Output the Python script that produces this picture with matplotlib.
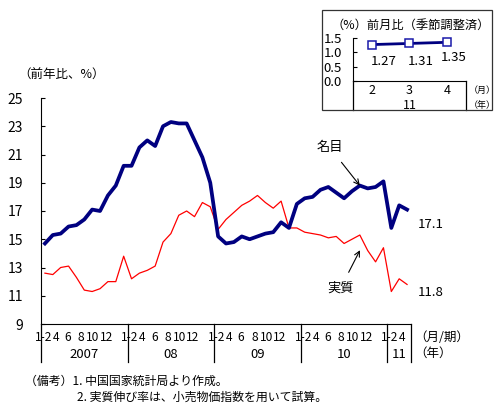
import matplotlib
matplotlib.use('Agg')
import matplotlib.pyplot as plt
from matplotlib.patches import Rectangle
import matplotlib.transforms as mtransforms
import numpy as np

plt.rcParams['font.family'] = ['Noto Sans CJK JP', 'DejaVu Sans']

# --- data ---------------------------------------------------------------
years = ['2007', '08', '09', '10', '11']
slots_per_year = [11, 11, 11, 11, 3]          # 1-2 combined, then 3..12
month_labels = ['1-2', '4', '6', '8', '10', '12']

# nominal retail sales growth (y/y, %)
nominal = [14.7, 15.3, 15.4, 15.9, 16.0, 16.4, 17.1, 17.0, 18.1, 18.8, 20.2,
           20.2, 21.5, 22.0, 21.6, 23.0, 23.3, 23.2, 23.2, 22.0, 20.8, 19.0,
           15.2, 14.7, 14.8, 15.2, 15.0, 15.2, 15.4, 15.5, 16.2, 15.8, 17.5,
           17.9, 18.0, 18.5, 18.7, 18.3, 17.9, 18.4, 18.8, 18.6, 18.7, 19.1,
           15.8, 17.4, 17.1]

# real growth (deflated by retail price index)
real = [12.6, 12.5, 13.0, 13.1, 12.3, 11.4, 11.3, 11.5, 12.0, 12.0, 13.8,
        12.2, 12.6, 12.8, 13.1, 14.8, 15.4, 16.7, 17.0, 16.6, 17.6, 17.3,
        15.7, 16.4, 16.9, 17.4, 17.7, 18.1, 17.6, 17.2, 17.7, 15.8, 15.8,
        15.5, 15.4, 15.3, 15.1, 15.2, 14.7, 15.0, 15.3, 14.2, 13.4, 14.4,
        11.3, 12.2, 11.8]

# inset: month-on-month, seasonally adjusted
mom_months = ['2', '3', '4']
mom_year = '11'
mom_values = [1.27, 1.31, 1.35]

# --- layout -------------------------------------------------------------
W, H = 502, 416
NAVY = '#000080'
RED = '#ff0000'

fig = plt.figure(figsize=(W / 100, H / 100), dpi=100)

ax = fig.add_axes([41 / W, (H - 324) / H, 370 / W, 226 / H])
x = np.arange(len(nominal))
ax.plot(x, real, color=RED, lw=0.9, zorder=2)
ax.plot(x, nominal, color=NAVY, lw=2.7, solid_joinstyle='round', zorder=3)

ax.set_xlim(-0.5, len(x) - 0.5)
ax.set_ylim(9, 25)
ax.set_yticks(range(9, 26, 2))
ax.tick_params(axis='y', direction='in', length=3, labelsize=10, pad=13)
ax.set_xticks([])
for s in ['top', 'right']:
    ax.spines[s].set_visible(False)

# month / year labels and year dividers below the axis
trans = mtransforms.blended_transform_factory(ax.transData, ax.transAxes)
label_off = [0.3, 1.9, 3.4, 5.1, 6.6, 8.3]   # position inside a year, in slots
edge = -0.5
ax.plot([edge, edge], [0, -0.17], color='black', lw=0.9, transform=trans, clip_on=False)
for yr, n in zip(years, slots_per_year):
    labs = month_labels if n == 11 else month_labels[:2]
    for lab, off in zip(labs, label_off):
        ax.text(edge + off, -0.058, lab, transform=trans, ha='center', va='center', fontsize=8.6)
    ax.text(edge + n / 2, -0.135, yr, transform=trans, ha='center', va='center', fontsize=9.5)
    edge += n
    ax.plot([edge, edge], [0, -0.17], color='black', lw=0.9, transform=trans, clip_on=False)

ax.text(len(x) - 0.1, -0.058, '（月/期）', transform=trans, ha='left', va='center', fontsize=9)
ax.text(len(x) - 0.1, -0.13, '（年）', transform=trans, ha='left', va='center', fontsize=9)

fig.text(62 / W, 1 - 75 / H, '（前年比、%）', ha='center', va='center', fontsize=9)

# series annotations
i_nom = 40
ax.annotate('名目', xy=(i_nom, nominal[i_nom]), xytext=(-30, 38), textcoords='offset pixels',
            ha='center', va='center', fontsize=9.5,
            arrowprops=dict(arrowstyle='->', lw=0.8, color='black', shrinkA=5, shrinkB=0))
ax.annotate('実質', xy=(40.5, (real[40] + real[41]) / 2), xytext=(-23, -45), textcoords='offset pixels',
            ha='center', va='center', fontsize=9.5,
            arrowprops=dict(arrowstyle='->', lw=0.8, color='black', shrinkA=5, shrinkB=6))

ax.annotate(f'{nominal[-1]:.1f}', xy=(x[-1], nominal[-1]), xytext=(11, -15),
            textcoords='offset pixels', ha='left', va='center', fontsize=9.5)
ax.annotate(f'{real[-1]:.1f}', xy=(x[-1], real[-1]), xytext=(11, -8),
            textcoords='offset pixels', ha='left', va='center', fontsize=9.5)

# --- inset ---------------------------------------------------------------
fig.patches.append(Rectangle((322 / W, 1 - 110 / H), 170 / W, 100 / H, transform=fig.transFigure,
                             fill=False, lw=0.9, ec='#333333'))
fig.text(332 / W, 1 - 25 / H, '（%）前月比（季節調整済）', ha='left', va='center', fontsize=8.8)

axin = fig.add_axes([352.8 / W, (H - 81) / H, 113.4 / W, 43 / H])
xi = np.arange(len(mom_values))
axin.plot(xi, mom_values, color=NAVY, lw=2.0, marker='s', ms=5.5,
          mfc='white', mec='#1a1aaa', mew=1.1, clip_on=False)
axin.set_xlim(-0.5, len(xi) - 0.5)
axin.set_ylim(0, 1.5)
axin.set_yticks([0, 0.5, 1.0, 1.5])
axin.set_yticklabels(['0.0', '0.5', '1.0', '1.5'])
axin.tick_params(axis='y', direction='in', length=3, labelsize=9.5, pad=21)
for lab in axin.get_yticklabels():
    lab.set_horizontalalignment('left')
axin.set_xticks([])
for s in ['top', 'right']:
    axin.spines[s].set_visible(False)

tin = mtransforms.blended_transform_factory(axin.transData, axin.transAxes)
for xe in [-0.5, len(xi) - 0.5]:
    axin.plot([xe, xe], [0, -0.67], color='black', lw=0.9, transform=tin, clip_on=False)
for xv, m in zip(xi, mom_months):
    axin.text(xv, -0.21, m, transform=tin, ha='center', va='center', fontsize=9)
axin.text(xi.mean(), -0.58, mom_year, transform=tin, ha='center', va='center', fontsize=9)
axin.text(1.02, -0.21, '（月）', transform=axin.transAxes, ha='left', va='center', fontsize=6.5)
axin.text(1.02, -0.56, '（年）', transform=axin.transAxes, ha='left', va='center', fontsize=6.5)

lab_dx = [12, 11, 6]
lab_dy = [-17, -18, -15]
for xv, v, dx, dy in zip(xi, mom_values, lab_dx, lab_dy):
    axin.annotate(f'{v:.2f}', xy=(xv, v), xytext=(dx, dy), textcoords='offset pixels',
                  ha='center', va='center', fontsize=9.5)

# --- notes ----------------------------------------------------------------
fig.text(25 / W, 1 - 381 / H, '（備考）1. 中国国家統計局より作成。', ha='left', va='center', fontsize=8.6)
fig.text(77 / W, 1 - 397 / H, '2. 実質伸び率は、小売物価指数を用いて試算。', ha='left', va='center', fontsize=8.6)

fig.savefig('out.png', dpi=100)
